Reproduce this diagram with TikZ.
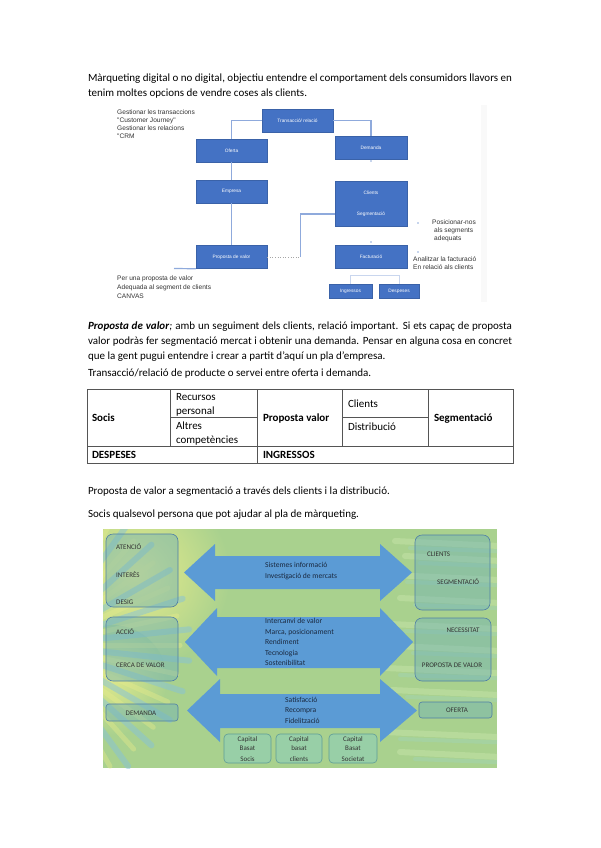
\documentclass[tikz,border=0pt]{standalone}
\usepackage{fontspec}
\setmainfont{Carlito}
\newfontfamily\arialf{Liberation Sans}
\definecolor{fcblue}{HTML}{4472C4}
\definecolor{fcedge}{HTML}{3A62A8}
\definecolor{fcline}{HTML}{8FAADC}
\definecolor{fclight}{HTML}{C9D6EE}
\definecolor{bggreen}{HTML}{A9D18E}
\definecolor{arrowblue}{HTML}{5B9BD5}
\definecolor{gedge}{HTML}{4F7FA6}
\definecolor{gfill}{HTML}{6FB0B8}
\definecolor{sfill}{HTML}{8ECFB8}
\definecolor{sedge}{HTML}{5E9C98}
\definecolor{navytext}{HTML}{1B2A41}
\definecolor{tline}{HTML}{555555}
\definecolor{stripeblue}{HTML}{86C3D9}
\definecolor{stripeyellow}{HTML}{E8EC8A}
\definecolor{stripelight}{HTML}{C4E3A6}
\definecolor{stripeteal}{HTML}{9FD4C4}
\newcommand\bfnt{\fontsize{11}{13}\selectfont}
\tikzset{
  body/.style={anchor=base west, inner sep=0pt, outer sep=0pt, font=\bfnt},
  bodyb/.style={body, font=\bfnt\bfseries},
  fcbox/.style={draw=fcedge, line width=0.5pt, fill=fcblue, text=white,
    font=\arialf\fontsize{4.8}{5.5}\selectfont, inner sep=0pt,
    minimum width=71pt, minimum height=23pt},
  fctext/.style={text=white, font=\arialf\fontsize{4.8}{5.5}\selectfont, inner sep=0pt},
  fcl/.style={draw=fcline, line width=1.2pt},
  fcdot/.style={fill=fcline},
  note/.style={anchor=base west, inner sep=0pt, font=\arialf\fontsize{6.6}{7}\selectfont, text=black!80},
  tl/.style={draw=tline, line width=0.7pt},
  garrow/.style={fill=arrowblue},
  atext/.style={anchor=base west, inner sep=0pt, font=\fontsize{7.6}{8}\selectfont, text=navytext},
  gbox/.style={draw=gedge, line width=0.6pt, fill=gfill, fill opacity=0.45, rounded corners=7pt, inner sep=0pt},
  gtext/.style={anchor=base west, inner sep=0pt, font=\fontsize{7}{8}\selectfont, text=black!80},
  gctext/.style={gtext, anchor=base},
  sbox/.style={draw=sedge, line width=0.6pt, fill=sfill, fill opacity=0.6, rounded corners=4pt, inner sep=0pt, minimum height=29pt},
}
\begin{document}
\begin{tikzpicture}[x=1pt,y=-1pt]
\useasboundingbox (0,0) rectangle (600,848);
\fill[white] (0,0) rectangle (600,848);

% ---------- paragraph 1
\node[body] (p1a) at (88,81.5) {\hbox to 424pt{Màrqueting digital o no digital, objectiu entendre el comportament dels consumidors llavors en}};
\node[body] (p1b) at (88,96.5) {tenim moltes opcions de vendre coses als clients.};

% ---------- flowchart
\fill[black!2.5] (481,105) rectangle (487,302);
\node[note] (n1) at (117,114.5) {Gestionar les transaccions};
\node[note] (n2) at (117,122.5) {"Customer Journey"};
\node[note] (n3) at (117,130.5) {Gestionar les relacions};
\node[note] (n4) at (117,139) {"CRM};

\node[fcbox] (trans) at (297.5,120.5) {Transacció/ relació};
\node[fcbox] (oferta) at (231.5,150.5) {Oferta};
\node[fcbox] (empresa) at (231.5,191.5) {Empresa};
\node[fcbox] (proposta) at (231.5,257) {Proposta de valor};
\node[fcbox, minimum width=72pt] (demanda) at (371,147.5) {Demanda};
\node[fcbox, minimum width=72pt, minimum height=45pt] (clients) at (371,203.5) {};
\node[fctext] (clientsA) at (371,193) {Clients};
\node[fctext] (clientsB) at (371,214) {Segmentació};
\node[fcbox, minimum width=72pt] (factura) at (371,256.5) {Facturació};
\node[fcbox, minimum width=43pt, minimum height=14pt] (ingr) at (350.5,291) {Ingressos};
\node[fcbox, minimum width=40pt, minimum height=14pt] (desp) at (399,291) {Despeses};

\draw[fcl] (trans.west) -| (oferta.north);
\draw[fcl] (oferta.south) -- (empresa.north);
\draw[fcl] (empresa.south) -- (proposta.north);
\draw[fcl] (trans.east) -| (demanda.north);
\coordinate (pjoin) at (300.5,257);
\draw[black!35, dotted, line width=0.6pt] (proposta.east) -- (pjoin);
\draw[fcl] (pjoin) |- (clients.west |- clientsB);
\coordinate (pleft) at (174,268.5);
\draw[fcl] (proposta.south west) -- (pleft);
\draw[fclight, line width=1pt] (ingr.north) -- ++(0,-8) -| (desp.north);
\coordinate (d1) at (371,161);
\coordinate (d2) at (371,242);
\coordinate (d3) at (418,223);
\coordinate (d4) at (418,252);
\foreach \d in {d1,d2,d3,d4} \fill[fcdot] (\d) circle (0.9pt);

\node[note] (r1) at (432,224.5) {Posicionar-nos};
\node[note] (r2) at (434,232) {als segments};
\node[note] (r3) at (434,240) {adequats};
\node[note] (r4) at (413,261.5) {Analitzar la facturació};
\node[note] (r5) at (413,269.5) {En relació als clients};

\node[note] (l1) at (117,280.5) {Per una proposta de valor};
\node[note] (l2) at (117,289.5) {Adequada al segment de clients};
\node[note] (l3) at (117,298.5) {CANVAS};

% ---------- paragraph 2
\node[body] (p2a) at (88,329.5) {\hbox to 424pt{\textbf{\textit{Proposta de valor}}\textit{;} amb un seguiment dels clients, relació important. Si ets capaç de proposta}};
\node[body] (p2b) at (88,344.5) {\hbox to 424pt{valor podràs fer segmentació mercat i obtenir una demanda. Pensar en alguna cosa en concret}};
\node[body] (p2c) at (88,359.5) {que la gent pugui entendre i crear a partit d’aquí un pla d’empresa.};
\node[body] (p2d) at (88,376.5) {Transacció/relació de producte o servei entre oferta i demanda.};

% ---------- table
\draw[tl] (87,389) rectangle (513,463);
\draw[tl] (87,446) -- (513,446);
\draw[tl] (170,389) -- (170,446);
\draw[tl] (257,389) -- (257,463);
\draw[tl] (342,389) -- (342,446);
\draw[tl] (428,389) -- (428,446);
\draw[tl] (170,417.5) -- (257,417.5);
\draw[tl] (342,417.5) -- (428,417.5);
\node[bodyb] (t1) at (92,421) {Socis};
\node[body] (t2) at (176,400) {Recursos};
\node[body] (t3) at (176,414) {personal};
\node[body] (t4) at (176,429) {Altres};
\node[body] (t5) at (176,443) {competències};
\node[bodyb] (t6) at (263,421) {Proposta valor};
\node[body] (t7) at (348,407) {Clients};
\node[body] (t8) at (348,430) {Distribució};
\node[bodyb] (t9) at (434,421) {Segmentació};
\node[bodyb] (t10) at (92,458) {DESPESES};
\node[bodyb] (t11) at (263,458) {INGRESSOS};

% ---------- paragraph 3
\node[body] (p3a) at (88,494.5) {Proposta de valor a segmentació a través dels clients i la distribució.};
\node[body] (p3b) at (88,517.5) {Socis qualsevol persona que pot ajudar al pla de màrqueting.};

% ---------- graphic background
\begin{scope}
\clip (103,529) rectangle (497,768);
\fill[bggreen] (103,529) rectangle (497,768);
\shade[inner color=stripeyellow, outer color=bggreen] (135,575) circle (95pt);
\shade[inner color=stripeyellow!80!bggreen, outer color=bggreen] (112,680) circle (55pt);
\foreach \a [count=\i] in {-84,-78,...,84} {
  \pgfmathsetmacro\w{mod(\i,2)}
  \ifdim\w pt=0pt
    \draw[stripeblue, opacity=0.5, line width=6pt, line cap=round] (40,645) -- ++(\a:150);
  \else
    \draw[stripeyellow, opacity=0.4, line width=5pt, line cap=round] (40,645) -- ++(\a:140);
  \fi
}
\foreach \yy/\xa in {541/395,556/405,575/392,598/400,624/390,646/398,668/385,690/392,732/385,752/400} {
  \draw[stripelight, opacity=0.55, line width=6pt, line cap=round] (\xa,\yy) -- (520,\yy+6);
  \draw[stripeteal, opacity=0.35, line width=4pt, line cap=round] (\xa+15,\yy+7) -- (520,\yy+11);
}
\end{scope}

% ---------- arrows
\fill[garrow] (184,572.5) -- (215,544) -- (215,556) -- (380,556) -- (380,544) -- (412,572.5)
  -- (380,601) -- (380,589) -- (215,589) -- (215,601) -- cycle;
\fill[garrow] (185,642) -- (217,608) -- (217,617) -- (380,617) -- (380,608) -- (413,642)
  -- (380,676) -- (380,668) -- (217,668) -- (217,676) -- cycle;
\fill[garrow] (187,710.5) -- (220,679) -- (220,694) -- (380,694) -- (380,679) -- (417,710.5)
  -- (380,742) -- (380,728) -- (220,728) -- (220,742) -- cycle;

\node[atext] (a1) at (265,567.5) {Sistemes informació};
\node[atext] (a2) at (265,578.5) {Investigació de mercats};
\node[atext] (a3) at (265,623.5) {Intercanvi de valor};
\node[atext] (a4) at (265,634.5) {Marca, posicionament};
\node[atext] (a5) at (265,644.5) {Rendiment};
\node[atext] (a6) at (265,655.5) {Tecnologia};
\node[atext] (a7) at (265,665.5) {Sostenibilitat};
\node[atext] (a8) at (285,702) {Satisfacció};
\node[atext] (a9) at (285,712.5) {Recompra};
\node[atext] (a10) at (285,723.5) {Fidelització};

% ---------- boxes
\node[gbox, minimum width=72pt, minimum height=73pt] (b1) at (142,570.5) {};
\node[gtext] (b1a) at (116,549.5) {ATENCIÓ};
\node[gtext] (b1b) at (116,577.5) {INTERÈS};
\node[gtext] (b1c) at (116,604.5) {DESIG};
\node[gbox, minimum width=72pt, minimum height=64pt] (b2) at (142,649) {};
\node[gtext] (b2a) at (116,634.5) {ACCIÓ};
\node[gtext] (b2b) at (116,667.5) {CERCA DE VALOR};
\node[gbox, rounded corners=3pt, minimum width=72pt, minimum height=17pt] (b3) at (142,712.5) {};
\node[gctext] (b3a) at (141,715) {DEMANDA};
\node[gbox, minimum width=75pt, minimum height=75pt] (b4) at (452.5,572.5) {};
\node[gtext] (b4a) at (427,556.5) {CLIENTS};
\node[gtext] (b4b) at (437,584.5) {SEGMENTACIÓ};
\node[gbox, minimum width=76pt, minimum height=63pt] (b5) at (453,649.5) {};
\node[gctext] (b5a) at (463,632.5) {NECESSITAT};
\node[gctext] (b5b) at (452,667.5) {PROPOSTA DE VALOR};
\node[gbox, rounded corners=3pt, minimum width=73pt, minimum height=16pt] (b6) at (455.5,710) {};
\node[gctext] (b6a) at (457,712.5) {OFERTA};

\node[sbox, minimum width=47pt] (c1) at (247.5,748.5) {};
\node[gctext] (c1a) at (247.5,741.5) {Capital};
\node[gctext] (c1b) at (247.5,750.5) {Basat};
\node[gctext] (c1c) at (247.5,761) {Socis};
\node[sbox, minimum width=46pt] (c2) at (299,748.5) {};
\node[gctext] (c2a) at (299,741.5) {Capital};
\node[gctext] (c2b) at (299,750.5) {basat};
\node[gctext] (c2c) at (299,761) {clients};
\node[sbox, minimum width=48pt] (c3) at (353,748.5) {};
\node[gctext] (c3a) at (353,741.5) {Capital};
\node[gctext] (c3b) at (353,750.5) {Basat};
\node[gctext] (c3c) at (353,761) {Societat};
\end{tikzpicture}
\end{document}
